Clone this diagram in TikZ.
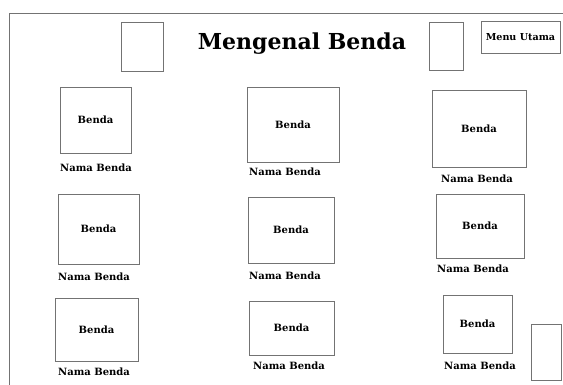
\documentclass[tikz,border=0pt]{standalone}
\usepackage{fontspec}
\setmainfont{DejaVu Serif}
\usepackage{tikz}
\usetikzlibrary{positioning}

\begin{document}
\begin{tikzpicture}[x=1pt, y=-1pt,
    font=\bfseries\fontsize{10}{11}\selectfont,
    frame/.style={draw=black!55, line width=0.9pt},
    itembox/.style={frame, rectangle, inner sep=0pt},
    caption/.style={inner sep=0pt}]
  \useasboundingbox (0,0) rectangle (563,385);

  % page border
  \draw[frame] (9,385) -- (9,13) -- (563,13);

  % header
  \node[font=\bfseries\fontsize{22}{25}\selectfont] (title) at (302,44) {Mengenal Benda};
  \node[itembox, minimum width=42, minimum height=49] (left) at (142,46.5) {};
  \node[itembox, minimum width=34, minimum height=48] (right) at (446,46) {};
  \node[itembox, minimum width=79, minimum height=32, font=\bfseries\fontsize{9.6}{11}\selectfont] (menu) at (520.5,37) {Menu Utama};

  % row 1
  \node[itembox, minimum width=71, minimum height=66] (b11) at (95.5,120) {Benda};
  \node[caption] (n11) at (96,168) {Nama Benda};
  \node[itembox, minimum width=92, minimum height=75] (b12) at (293,124.5) {Benda};
  \node[caption] (n12) at (285,172) {Nama Benda};
  \node[itembox, minimum width=94, minimum height=77] (b13) at (479,128.5) {Benda};
  \node[caption] (n13) at (477,179) {Nama Benda};

  % row 2
  \node[itembox, minimum width=81, minimum height=70] (b21) at (98.5,229) {Benda};
  \node[caption] (n21) at (94,277) {Nama Benda};
  \node[itembox, minimum width=86, minimum height=66] (b22) at (291,230) {Benda};
  \node[caption] (n22) at (285,276) {Nama Benda};
  \node[itembox, minimum width=88, minimum height=64] (b23) at (480,226) {Benda};
  \node[caption] (n23) at (473,269) {Nama Benda};

  % row 3
  \node[itembox, minimum width=83, minimum height=63] (b31) at (96.5,329.5) {Benda};
  \node[caption] (n31) at (94,372) {Nama Benda};
  \node[itembox, minimum width=85, minimum height=54] (b32) at (291.5,328) {Benda};
  \node[caption] (n32) at (289,366) {Nama Benda};
  \node[itembox, minimum width=69, minimum height=58] (b33) at (477.5,324) {Benda};
  \node[caption] (n33) at (480,366) {Nama Benda};

  % corner button
  \node[itembox, minimum width=30, minimum height=56] (next) at (546,352) {};
\end{tikzpicture}
\end{document}
